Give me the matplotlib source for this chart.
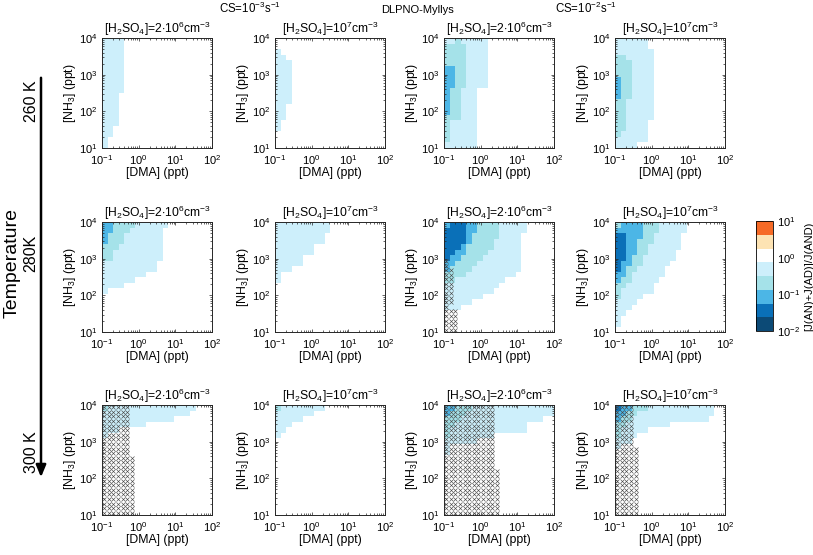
import numpy as np
import matplotlib
matplotlib.use('Agg')
import matplotlib.pyplot as plt
from matplotlib.colors import ListedColormap, LogNorm
from matplotlib.ticker import LogLocator, NullFormatter, FixedLocator
from matplotlib.patches import FancyArrowPatch

plt.rcParams['font.family'] = ['Liberation Sans', 'DejaVu Sans']
plt.rcParams['mathtext.fontset'] = 'custom'
plt.rcParams['mathtext.rm'] = 'Liberation Sans'
plt.rcParams['mathtext.it'] = 'Liberation Sans:italic'
plt.rcParams['mathtext.bf'] = 'Liberation Sans:bold'

# ---------------- data ----------------
# colour classes of [J(AN)+J(AD)]/J(AND), one letter per grid cell
# n: navy, d: dark blue, m: medium blue, t: teal, p: pale cyan, '.': ~1 (white), o: peach, r: orange
class_ratio = {'n': 0.015, 'd': 0.04, 'm': 0.1, 't': 0.2, 'p': 0.5, '.': 1.0, 'o': 3.0, 'r': 7.0}
cbar_colors = ['#0c4a76', '#0a70b8', '#4cb6e6', '#a5e2e9', '#cdeffb', '#ffffff', '#fde3b3', '#f66a26']

temperatures = ['260 K', '280K', '300 K']
cs_labels = ['CS=10$^{-3}$s$^{-1}$', 'CS=10$^{-2}$s$^{-1}$']
h2so4_titles = ['[H$_2$SO$_4$]=2$\\cdot$10$^6$cm$^{-3}$', '[H$_2$SO$_4$]=10$^7$cm$^{-3}$']

# rows listed from top ([NH3]=1e4) to bottom ([NH3]=10); columns from [DMA]=0.1 to 100
grid_260_cs3_2e6 = ['pppp'] * 10 + ['ppp'] * 6 + ['pp'] * 2 + ['p'] * 2
grid_260_cs3_1e7 = ['', '', 'p', 'pp'] + ['ppp'] * 8 + ['pp'] * 3 + ['p'] * 2 + [''] * 3
grid_260_cs2_2e6 = ['pptppppp', 'ttttpppp', 'ttttpppp', 'ttttpppp', 'ttttpppp',
                    'mmttpppp', 'mmttpppp', 'mmttpppp', 'mmttpppp',
                    'mttppp', 'mttppp', 'mttppp', 'mttppp', 'mttppp', 'tttppp',
                    'tppppp', 'tppppp', 'tppppp', 'tppppp', 'pppppp']
grid_260_cs2_1e7 = ['pppppp', 'pppppp', 'ppppppp', 'ttppppp', 'tttpppp', 'tttpppp', 'tttpppp',
                    'mttpppp', 'mttpppp', 'mttpppp', 'mttpppp',
                    'ttppppp', 'ttppppp', 'ttppppp', 'ttppppp',
                    'ttpppp', 'ttpppp', 'tppppp', 'pppppp', 'pppp']
grid_280_cs3_2e6 = ['mmttttpppppp', 'mmtttpppppp', 'mtttppppppp', 'mtttppppppp', 'tttpppppppp',
                    'ttppppppppp', 'ttppppppppp', 'pppppppppp', 'pppppppppp', 'pppppppp',
                    'pppppp', 'pppp', 'p'] + [''] * 7
grid_280_cs3_1e7 = ['p' * 10, 'p' * 10, 'p' * 9, 'p' * 9, 'p' * 7, 'p' * 7, 'p' * 5, 'p' * 5,
                    'p' * 3, 'p', 'p'] + [''] * 9
grid_280_cs2_2e6 = ['mdddmmttttppppp', 'ddddmmttttppppp', 'ddddmtttttpppp', 'ddddmttttppppp',
                    'dddmtttttppppp', 'ddmmttttpppppp', 'dmmttttppppppp', 'mmttttpppppppp',
                    'mttttppppppppp', 'ttttppppppppp', 'ttppppppppp', 'pppppppppp',
                    'ppppppppp', 'ppppppp', 'ppppp', 'ppp'] + [''] * 4
grid_280_cs2_1e7 = ['tmmmmtttppppp', 'mmmmmtttppppp', 'ddmmmttppppp', 'ddmmtttppppp',
                    'ddmmttpppppp', 'ddmmttppppp', 'ddmttpppppp', 'dmmttppppp', 'dmttppppp',
                    'mmtpppppp', 'mttppppp', 'ttppppp', 'tpppppp', 'tpppp', 'pppp', 'ppp',
                    'pp', 'p', 'p', '']
grid_300_cs3_2e6 = ['t' + 'p' * 16, 'p' * 16, 'p' * 13, 'p' * 8, 'p' * 3, 'p'] + [''] * 14
grid_300_cs3_1e7 = ['t' + 'p' * 8, 'p' * 7, 'p' * 5, 'p' * 3, 'p' * 2, 'p'] + [''] * 14
grid_300_cs2_2e6 = ['mmttt' + 'p' * 15, 'mttt' + 'p' * 16, 'ttt' + 'p' * 15, 'tt' + 'p' * 13,
                    't' + 'p' * 14, 't' + 'p' * 8, 'p' * 6, 'p', 'p'] + [''] * 11
grid_300_cs2_1e7 = ['dmmttt' + 'p' * 12, 'mmtt' + 'p' * 14, 'mtt' + 'p' * 14, 'tt' + 'p' * 8,
                    't' + 'p' * 5, 't' + 'p' * 3, 'ppp', 'p'] + [''] * 12

# crossed-out (excluded) points: number of crossed points from the left, per row from bottom
cross_280_cs2_2e6 = [3, 3, 3, 3, 3, 1, 2, 2, 2, 2, 2, 2, 2, 2, 1, 1] + [0] * 8
cross_300_cs3_2e6 = [7] * 13 + [6] * 11
cross_300_cs2_2e6 = [12] * 10 + [11] * 14
cross_300_cs2_1e7 = [5] * 15 + [4] * 9

panel_grids = [[grid_260_cs3_2e6, grid_260_cs3_1e7, grid_260_cs2_2e6, grid_260_cs2_1e7],
               [grid_280_cs3_2e6, grid_280_cs3_1e7, grid_280_cs2_2e6, grid_280_cs2_1e7],
               [grid_300_cs3_2e6, grid_300_cs3_1e7, grid_300_cs2_2e6, grid_300_cs2_1e7]]
panel_crosses = [[None, None, None, None],
                 [None, None, cross_280_cs2_2e6, None],
                 [cross_300_cs3_2e6, None, cross_300_cs2_2e6, cross_300_cs2_1e7]]

# sampling grids
dma_edges = np.logspace(-1, 2, 21)
nh3_edges = np.logspace(1, 4, 21)
dma_cross = 10 ** (-1 + 0.125 * (np.arange(24) + 0.5))
nh3_cross = 10 ** (1 + 0.125 * (np.arange(24) + 0.5))

# ---------------- figure ----------------
W, H = 813, 555
fig = plt.figure(figsize=(W / 100, H / 100), dpi=100)

def rect(left, top, w, h):
    return [left / W, 1 - (top + h) / H, w / W, h / H]

cmap = ListedColormap(cbar_colors)
norm = LogNorm(1e-2, 1e1)

col_left = [102, 275, 444, 615]
row_top = [38, 222, 405]
axw, axh = 110, 110
fs_tick = 8
fs_lab = 8.8
fs_title = 8.7

for r in range(3):
    for c in range(4):
        ax = fig.add_axes(rect(col_left[c], row_top[r], axw, axh))
        rows = panel_grids[r][c]
        vals = np.array([[class_ratio[ch] for ch in row.ljust(20, '.')] for row in rows[::-1]])
        ax.pcolormesh(dma_edges, nh3_edges, vals, cmap=cmap, norm=norm, shading='flat')
        cr = panel_crosses[r][c]
        if cr is not None:
            xs, ys = [], []
            for j, n in enumerate(cr):
                for i in range(n):
                    xs.append(dma_cross[i]); ys.append(nh3_cross[j])
            ax.plot(xs, ys, ls='none', marker='x', ms=3.0, mew=0.45, color='#4a4a4a', clip_on=True)
        ax.set_xscale('log'); ax.set_yscale('log')
        ax.set_xlim(1e-1, 1e2); ax.set_ylim(1e1, 1e4)
        ax.xaxis.set_major_locator(FixedLocator([1e-1, 1e0, 1e1, 1e2]))
        ax.yaxis.set_major_locator(FixedLocator([1e1, 1e2, 1e3, 1e4]))
        ax.xaxis.set_minor_locator(LogLocator(subs=np.arange(2, 10)))
        ax.yaxis.set_minor_locator(LogLocator(subs=np.arange(2, 10)))
        ax.xaxis.set_minor_formatter(NullFormatter()); ax.yaxis.set_minor_formatter(NullFormatter())
        ax.tick_params(which='both', direction='in', top=True, right=True, labelsize=fs_tick,
                       width=0.5, color='#262626')
        ax.tick_params(axis='x', which='major', pad=4)
        ax.tick_params(axis='y', which='major', pad=3)
        ax.tick_params(which='major', length=2.5)
        ax.tick_params(which='minor', length=1.3)
        for s in ax.spines.values():
            s.set_linewidth(0.7); s.set_color('#262626')
        ax.set_xlabel('[DMA] (ppt)', fontsize=fs_lab, labelpad=0)
        ax.set_ylabel('[NH$_3$] (ppt)', fontsize=fs_lab, labelpad=1)
        ax.set_title(h2so4_titles[c % 2], fontsize=fs_title, pad=2.5)

# colorbar
cax = fig.add_axes(rect(756, 221, 17, 110))
sm = plt.cm.ScalarMappable(cmap=cmap, norm=norm)
cb = fig.colorbar(sm, cax=cax)
cb.set_ticks([1e-2, 1e-1, 1e0, 1e1])
cb.ax.minorticks_off()
cb.ax.tick_params(labelsize=fs_tick, length=0, pad=3)
cb.outline.set_linewidth(0.6)
cb.set_label('[J(AN)+J(AD)]/J(AND)', fontsize=8, labelpad=3)

# header texts
fig.text(250 / W, 1 - 8 / H, cs_labels[0], ha='center', va='center', fontsize=8.3)
fig.text(417 / W, 1 - 10 / H, 'DLPNO-Myllys', ha='center', va='center', fontsize=8)
fig.text(586 / W, 1 - 8 / H, cs_labels[1], ha='center', va='center', fontsize=8.3)

# temperature arrow
arrow = FancyArrowPatch((41 / W, 1 - 75 / H), (41 / W, 1 - 480 / H), transform=fig.transFigure,
                        arrowstyle='-|>,head_length=0.6,head_width=0.25', mutation_scale=12,
                        color='black', lw=1.8)
fig.add_artist(arrow)
fig.text(31 / W, 1 - 101 / H, temperatures[0], rotation=90, ha='center', va='center', fontsize=11.5)
fig.text(31 / W, 1 - 253 / H, temperatures[1], rotation=90, ha='center', va='center', fontsize=11.5)
fig.text(31 / W, 1 - 452 / H, temperatures[2], rotation=90, ha='center', va='center', fontsize=11.5)
fig.text(12 / W, 1 - 263 / H, 'Temperature', rotation=90, ha='center', va='center', fontsize=14)

fig.savefig('out.png', dpi=100)
